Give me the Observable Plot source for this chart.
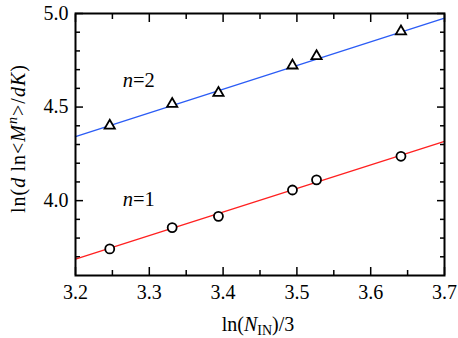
<!DOCTYPE html>
<html>
<head>
<meta charset="utf-8">
<script src="https://cdn.jsdelivr.net/npm/d3@7"></script>
<script src="https://cdn.jsdelivr.net/npm/@observablehq/plot@0.6"></script>
<style>
  html, body { margin: 0; padding: 0; background: #fff; }
  #chart svg { display: block; }
</style>
</head>
<body>
<div id="chart"></div>
<script>
// ---- data ----
const lnN = [3.2464, 3.331, 3.3937, 3.494, 3.5266, 3.641];
const n1Values = [3.742, 3.856, 3.916, 4.057, 4.111, 4.237];
const n2Values = [4.401, 4.517, 4.576, 4.722, 4.772, 4.904];
const fitX = [3.2, 3.7];
const fit1 = [3.688, 4.317];
const fit2 = [4.342, 4.975];
const xMajor = [3.2, 3.3, 3.4, 3.5, 3.6, 3.7];
const xMinor = [3.25, 3.35, 3.45, 3.55, 3.65];
const yMajor = [4.0, 4.5, 5.0];
const yMinor = [3.7, 3.8, 3.9, 4.1, 4.2, 4.3, 4.4, 4.6, 4.7, 4.8, 4.9];
const seriesLabels = [{text: "1", x: 3.2865, y: 3.968}, {text: "2", x: 3.2865, y: 4.606}];

const pts1 = lnN.map((x, i) => ({x, y: n1Values[i]}));
const pts2 = lnN.map((x, i) => ({x, y: n2Values[i]}));
const line1 = fitX.map((x, i) => ({x, y: fit1[i]}));
const line2 = fitX.map((x, i) => ({x, y: fit2[i]}));

const font = "Liberation Serif";
const blue = "#2b5cf5";
const red = "#ff2020";

const W = 458, H = 338, ML = 75, MR = 14, MT = 13, MB = 63;
const major = 8, minor = 5;
const tk = {stroke: "#000", strokeWidth: 1.5, text: null, label: null, tickFormat: null};

const chart = Plot.plot({
  width: W,
  height: H,
  marginLeft: ML,
  marginRight: MR,
  marginTop: MT,
  marginBottom: MB,
  style: {fontFamily: font, fontSize: "20px", background: "#fff", color: "#000"},
  x: {domain: [3.2, 3.7]},
  y: {domain: [3.6, 5.0]},
  marks: [
    // tick labels
    Plot.axisX(xMajor, {anchor: "bottom", tickSize: 0, tickPadding: 9, tickFormat: d => d.toFixed(1), fontSize: 20, fontFamily: font, label: null}),
    Plot.axisY(yMajor, {anchor: "left", tickSize: 0, tickPadding: 7, tickFormat: d => d.toFixed(1), fontSize: 20, fontFamily: font, label: null}),
    // inward ticks on all four sides (outward ticks shifted inside)
    Plot.axisX(xMajor, {anchor: "bottom", tickSize: major, dy: -major, ...tk}),
    Plot.axisX(xMinor, {anchor: "bottom", tickSize: minor, dy: -minor, ...tk}),
    Plot.axisX(xMajor, {anchor: "top", tickSize: major, dy: major, ...tk}),
    Plot.axisX(xMinor, {anchor: "top", tickSize: minor, dy: minor, ...tk}),
    Plot.axisY(yMajor, {anchor: "left", tickSize: major, dx: major, ...tk}),
    Plot.axisY(yMinor, {anchor: "left", tickSize: minor, dx: minor, ...tk}),
    Plot.axisY(yMajor, {anchor: "right", tickSize: major, dx: -major, ...tk}),
    Plot.axisY(yMinor, {anchor: "right", tickSize: minor, dx: -minor, ...tk}),
    // fit lines
    Plot.line(line2, {x: "x", y: "y", stroke: blue, strokeWidth: 1.3}),
    Plot.line(line1, {x: "x", y: "y", stroke: red, strokeWidth: 1.3}),
    // data points
    Plot.dot(pts2, {x: "x", y: "y", symbol: "triangle", r: 3.8, stroke: "#000", fill: "#fff", strokeWidth: 1.8}),
    Plot.dot(pts1, {x: "x", y: "y", symbol: "circle", r: 4.5, stroke: "#000", fill: "#fff", strokeWidth: 1.8}),
    Plot.frame({stroke: "#000", strokeWidth: 2})
  ]
});

document.getElementById("chart").appendChild(chart);

// rich-text labels (italics, sub/superscripts)
const svg = d3.select(chart);
const xs = chart.scale("x"), ys = chart.scale("y");
const g = svg.append("g").attr("font-family", font).attr("font-size", 20).attr("fill", "#000");

// series labels n=1, n=2
seriesLabels.forEach(l => {
  const t = g.append("text").attr("x", xs.apply(l.x)).attr("y", ys.apply(l.y))
    .attr("textLength", 32).attr("lengthAdjust", "spacingAndGlyphs");
  t.append("tspan").attr("font-style", "italic").text("n");
  t.append("tspan").text("=" + l.text);
});

// x axis label: ln(N_IN)/3
const xl = g.append("text").attr("x", 258).attr("y", 331).attr("text-anchor", "middle");
xl.append("tspan").text("ln(");
xl.append("tspan").attr("font-style", "italic").text("N");
xl.append("tspan").attr("font-size", 14).attr("dy", 4).text("IN");
xl.append("tspan").attr("dy", -4).text(")/3");

// y axis label: ln(d ln<M^n>/dK)
const yl = g.append("text").attr("text-anchor", "middle")
  .attr("transform", "translate(25,139) rotate(-90)")
  .attr("textLength", 148).attr("lengthAdjust", "spacing");
yl.append("tspan").text("ln(");
yl.append("tspan").attr("font-style", "italic").text("d");
yl.append("tspan").text("\u2009ln<");
yl.append("tspan").attr("font-style", "italic").text("M");
yl.append("tspan").attr("font-style", "italic").attr("font-size", 14).attr("dy", -8).text("n");
yl.append("tspan").attr("dy", 8).text(">/");
yl.append("tspan").attr("font-style", "italic").text("dK");
yl.append("tspan").text(")");
</script>
</body>
</html>
